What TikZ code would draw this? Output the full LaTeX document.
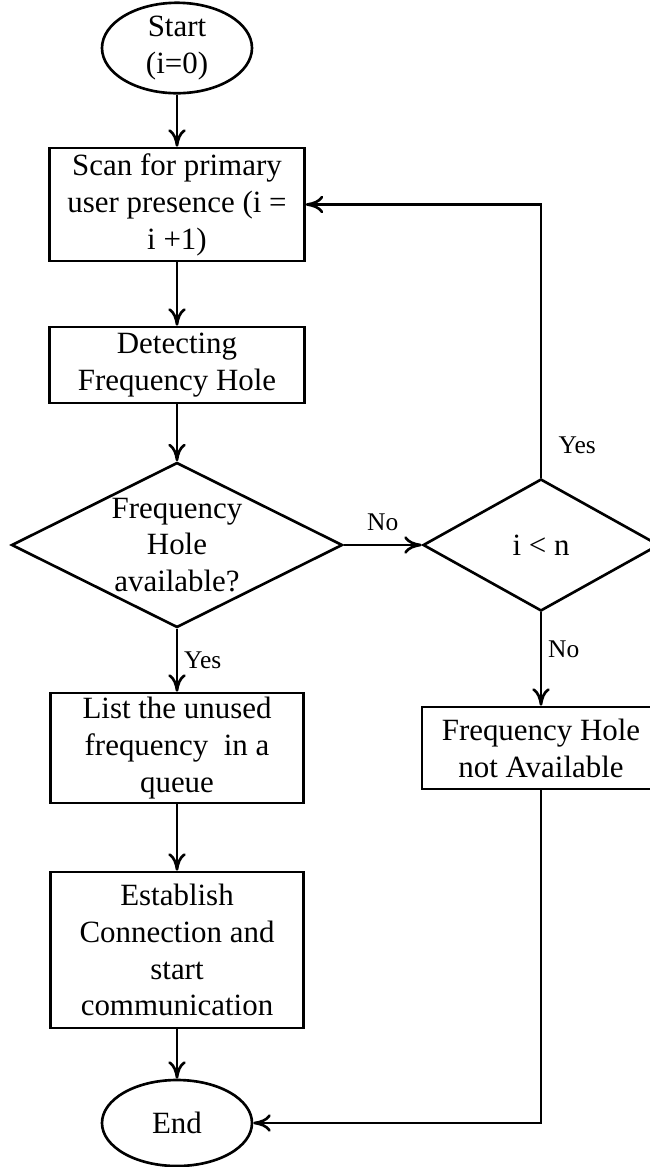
\documentclass[tikz,border=0pt]{standalone}
\usepackage{fontspec}
\setmainfont{Liberation Serif}
\usepackage{tikz}
\usetikzlibrary{arrows.meta,shapes.geometric}

\begin{document}
\begin{tikzpicture}[
  font=\fontsize{17.6}{21}\selectfont,
  line width=1.5pt,
  >={To[length=3.5mm,width=3.5mm]},
  proc/.style={
    rectangle, draw, align=center,
    inner sep=0pt, minimum height=#1
  },
  proc/.default=1.5cm,
  term/.style={
    ellipse, draw, align=center,
    inner sep=0pt, minimum width=3cm
  },
  dec/.style={
    diamond, draw, inner sep=0pt
  },
  lbl/.style={font=\fontsize{14.5}{17}\selectfont}
]
  \useasboundingbox (0,0) rectangle (12.98,-23.34);
  \node[term, minimum height=1.6cm] (start) at (3.54,-0.96){Start\\(i=0)};
  \node[proc=2.26cm, minimum width=5.1cm] (scan) at (3.54,-4.09)
    {Scan for primary\\user presence (i =\\i +1)};
  \node[proc=1.52cm, minimum width=5.1cm] (detect) at (3.54,-7.3)
    {Detecting\\Frequency Hole};
  \node[dec, minimum width=6.62cm, minimum height=3.3cm,
    label={[align=center]center:Frequency\\Hole\\available?}] (avail) at (3.54,-10.9){};
  \node[dec, minimum width=4.72cm, minimum height=2.64cm,
    label={center:i < n}] (count) at (10.82,-10.9){};
  \node[proc=2.2cm, minimum width=5.06cm] (queue) at (3.54,-14.96)
    {List the unused\\frequency \ in a\\queue};
  \node[proc=1.64cm, minimum width=4.76cm] (nohole) at (10.82,-14.96)
    {Frequency Hole\\not Available};
  \node[proc=3.12cm, minimum width=5.06cm] (connect) at (3.54,-19.0)
    {Establish\\Connection and\\start\\communication};
  \node[term, minimum height=1.72cm] (end) at (3.54,-22.46){End};
  \draw[->] (start)--(scan);
  \draw[->] (scan)--(detect);
  \draw[->] (detect)--(avail);
  \draw[->] (avail)--(queue) node[midway, right, lbl]{Yes};
  \draw[->] (queue)--(connect);
  \draw[->] (connect)--(end);
  \draw[->] (avail.east)--(count.west) node[midway, above=4pt, lbl]{No};
  \draw[->] (count.north) |- (scan.east) node[pos=0.06, right=6pt, lbl]{Yes};
  \draw[->] (count)--(nohole) node[pos=0.4, right, lbl]{No};
  \draw[->] (nohole.south) |- (end.east);
\end{tikzpicture}
\end{document}
